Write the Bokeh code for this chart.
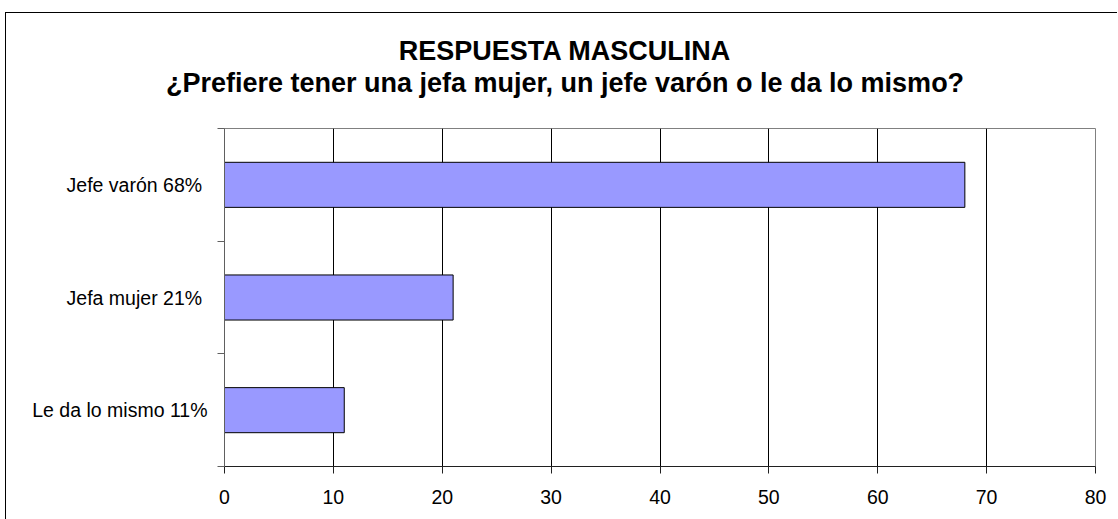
from bokeh.plotting import figure
from bokeh.models import Range1d, FixedTicker, Title, ColumnDataSource
from bokeh.layouts import column
from bokeh.embed import file_html
from bokeh.resources import INLINE

title_line1 = "RESPUESTA MASCULINA"
title_line2 = "¿Prefiere tener una jefa mujer, un jefe varón o le da lo mismo?"
categories = ["Jefe varón  68%", "Jefa mujer  21%", "Le da lo mismo 11%"]
values = [68, 21, 11]
x_ticks = [0, 10, 20, 30, 40, 50, 60, 70, 80]

FONT = "Liberation Sans"
n = len(categories)
ypos = [n - i - 0.5 for i in range(n)]

W = 1111
HT = 95

# ---- title strip ----
tf = figure(width=W, height=HT, output_backend="svg", toolbar_location=None,
            x_axis_location=None, y_axis_location=None,
            x_range=Range1d(0, 1), y_range=Range1d(0, 1),
            min_border_left=6, min_border_right=0, min_border_top=84, min_border_bottom=0)
tf.frame_align = False
tf.outline_line_color = None
tf.grid.grid_line_color = None
tf.background_fill_color = "white"
tf.border_fill_color = "white"
tf.add_layout(Title(text=title_line2, align="center", standoff=0, vertical_align="bottom",
                    text_font=FONT, text_font_size="27px", text_font_style="bold",
                    text_color="black"), "above")
tf.add_layout(Title(text=title_line1, align="center", standoff=0, vertical_align="bottom",
                    text_font=FONT, text_font_size="27px", text_font_style="bold",
                    text_color="black"), "above")

# ---- chart ----
p = figure(width=W, height=519 - 13 - HT, output_backend="svg", toolbar_location=None,
           x_range=Range1d(0, 80), y_range=Range1d(0, n),
           min_border_left=218, min_border_right=22, min_border_top=20, min_border_bottom=53)
p.frame_align = False
p.background_fill_color = "white"
p.border_fill_color = "white"
p.outline_line_color = "#808080"
p.outline_line_width = 1

src = ColumnDataSource(dict(y=ypos, v=values, cat=categories))
p.hbar(y="y", left=0, right="v", height=0.4, source=src,
       fill_color="#9999FF", line_color="black", line_width=1)

p.xaxis.ticker = FixedTicker(ticks=x_ticks)
p.xaxis.axis_line_color = "#202020"
p.xaxis.major_tick_out = 7
p.xaxis.major_tick_in = 0
p.xaxis.minor_tick_line_color = None
p.xaxis.major_tick_line_color = "#202020"
p.xaxis.major_label_text_font = FONT
p.xaxis.major_label_text_font_size = "19.5px"
p.xaxis.major_label_text_color = "black"
p.xaxis.major_label_standoff = 16

p.yaxis.ticker = FixedTicker(ticks=ypos, minor_ticks=list(range(n + 1)))
p.yaxis.major_label_overrides = {y: c for y, c in zip(ypos, categories)}
p.yaxis.major_tick_line_color = None
p.yaxis.major_tick_out = 7
p.yaxis.minor_tick_out = 7
p.yaxis.minor_tick_in = 0
p.yaxis.minor_tick_line_color = "#606060"
p.yaxis.axis_line_color = "#606060"
p.yaxis.major_label_text_font = FONT
p.yaxis.major_label_text_font_size = "19.5px"
p.yaxis.major_label_text_color = "black"
p.yaxis.major_label_standoff = 10

p.xgrid.grid_line_color = "black"
p.xgrid.grid_line_width = 1
p.ygrid.grid_line_color = None

layout = column(tf, p, spacing=0,
                styles={"border-left": "1.5px solid black", "border-top": "1.5px solid black",
                        "margin-left": "5px", "margin-top": "12px"})

open("out.html", "w").write(file_html(layout, INLINE))
